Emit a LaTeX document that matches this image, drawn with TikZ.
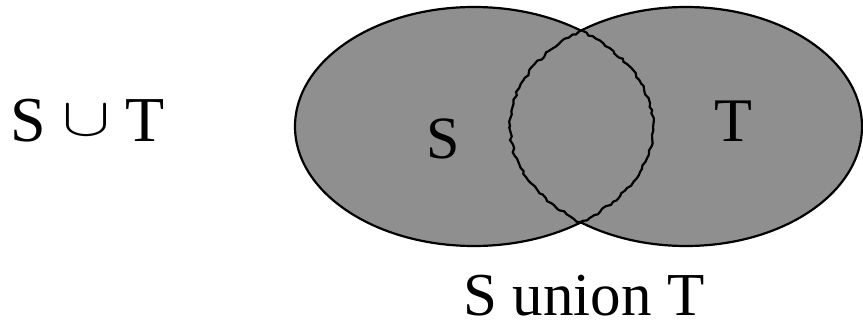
\documentclass[tikz,border=0pt]{standalone}
\usepackage{fontspec}
\usepackage{graphicx}
\setmainfont{Liberation Serif}
\usetikzlibrary{decorations.pathmorphing}
\definecolor{setgray}{HTML}{8F8F8F}
\tikzset{
  label text/.style={inner sep=0pt, anchor=base},
  rim/.style={line width=2.2pt, black},
  wobbly/.style={rim, decorate, decoration={random steps, segment length=4pt, amplitude=1.3pt}},
}
\newcommand{\bigunion}{\raisebox{6pt}{\resizebox{48pt}{30pt}{$\cup$}}}
\begin{document}
\begin{tikzpicture}[x=1pt, y=-1pt]
\useasboundingbox (0,0) rectangle (863,321);
\def\setS{(474,126.5) ellipse [x radius=179, y radius=119.5]}
\def\setT{(686,126.5) ellipse [x radius=176, y radius=119.5]}
% shaded union
\fill[setgray] \setS;
\fill[setgray] \setT;
% outer rims: each ellipse outside the other
\begin{scope}[even odd rule]
  \clip (-10,-10) rectangle (880,340) \setT;
  \draw[rim] \setS;
\end{scope}
\begin{scope}[even odd rule]
  \clip (-10,-10) rectangle (880,340) \setS;
  \draw[rim] \setT;
\end{scope}
% hand-drawn inner rims of the overlap
\pgfmathsetseed{7}
\begin{scope}
  \clip \setT;
  \draw[wobbly] \setS;
\end{scope}
\begin{scope}
  \clip \setS;
  \draw[wobbly] \setT;
\end{scope}
% labels
\node[label text] (sname) at (443,158) {\fontsize{60}{72}\selectfont S};
\node[label text] (tname) at (733,142) {\fontsize{62}{74}\selectfont T};
\node[label text] (caption) at (584,315) {\fontsize{61}{73}\selectfont S union T};
\node[label text, anchor=base west] (formula) at (10,142)
  {\fontsize{64}{76}\selectfont S\hspace{17pt}\bigunion\hspace{15pt}T};
\end{tikzpicture}
\end{document}
